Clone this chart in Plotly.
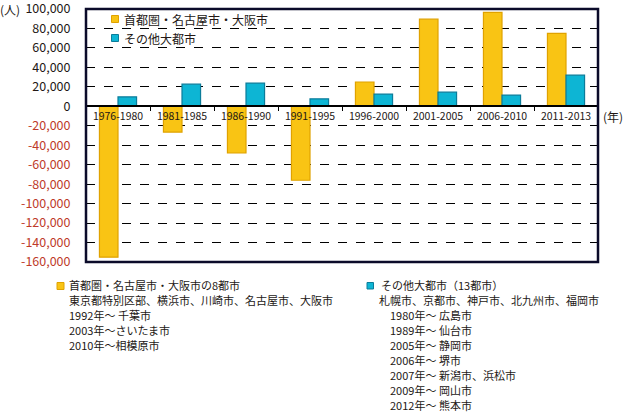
import plotly.graph_objects as go

categories = ["1976-1980", "1981-1985", "1986-1990", "1991-1995",
              "1996-2000", "2001-2005", "2006-2010", "2011-2013"]
metro_values = [-155000, -26500, -48000, -76000, 25000, 89500, 96500, 75000]
other_values = [9700, 22700, 23800, 7700, 12500, 14500, 11500, 32000]
series_names = ["首都圏・名古屋市・大阪市", "その他大都市"]
y_ticks = [100000, 80000, 60000, 40000, 20000, 0, -20000, -40000, -60000,
           -80000, -100000, -120000, -140000, -160000]

left_notes = ["首都圏・名古屋市・大阪市の8都市",
              "東京都特別区部、横浜市、川崎市、名古屋市、大阪市",
              "1992年～ 千葉市",
              "2003年～さいたま市",
              "2010年～相模原市"]
right_notes = ["その他大都市（13都市）",
               "札幌市、京都市、神戸市、北九州市、福岡市",
               "1980年～ 広島市",
               "1989年～ 仙台市",
               "2005年～ 静岡市",
               "2006年～ 堺市",
               "2007年～ 新潟市、浜松市",
               "2009年～ 岡山市",
               "2012年～ 熊本市"]

YELLOW, YELLOW_LINE = "#F9C414", "#E0A200"
BLUE, BLUE_LINE = "#0DB5D4", "#0B7C9A"
TXT = "#231815"
RED = "#BE3B2A"
FONT = "Noto Sans CJK JP"

W, H = 628, 417
L, R, T, B = 86, 30, 9, 155
PW, PH = W - L - R, H - T - B


def px(x):
    return (x - L) / PW


def py(y):
    return (H - B - y) / PH


fig = go.Figure()
fig.add_trace(go.Bar(x=categories, y=metro_values, name=series_names[0],
                     marker=dict(color=YELLOW, line=dict(color=YELLOW_LINE, width=1.2))))
fig.add_trace(go.Bar(x=categories, y=other_values, name=series_names[1],
                     marker=dict(color=BLUE, line=dict(color=BLUE_LINE, width=1.2))))

ticktext = []
for v in y_ticks:
    s = f"{v:,}"
    if v < 0:
        ticktext.append(f'<span style="color:{RED}">{s}</span>')
    else:
        ticktext.append(s)

ymin, ymax = -160000, 100000
eps = 1
zero_pos = (0 - (ymin - eps)) / (ymax - ymin + 2 * eps)

fig.update_layout(
    width=W, height=H,
    margin=dict(l=L, r=R, t=T, b=B, autoexpand=False),
    paper_bgcolor="white", plot_bgcolor="white",
    showlegend=False,
    barmode="group", bargap=0.42, bargroupgap=0.0,
    font=dict(family=FONT, color=TXT),
    xaxis=dict(
        anchor="free", position=zero_pos, automargin=False,
        showline=True, linecolor="#000000", linewidth=1.5,
        ticks="outside", tickson="boundaries", ticklen=4, tickwidth=1.2, tickcolor="#000000",
        tickfont=dict(size=10.5, color=TXT, family=FONT), tickangle=0,
        showgrid=False, zeroline=False,
    ),
    yaxis=dict(
        range=[ymin - eps, ymax + eps], automargin=False,
        tickvals=y_ticks, ticktext=ticktext, ticklabeloverflow="allow",
        tickfont=dict(size=12.5, color=TXT, family=FONT),
        ticks="outside", ticklen=12, tickcolor="rgba(0,0,0,0)",
        showgrid=True, gridcolor="#000000", gridwidth=1, griddash="dash",
        zeroline=True, zerolinecolor="#000000", zerolinewidth=1.5,
        showline=False,
    ),
)

shapes = [dict(type="rect", xref="paper", yref="paper", x0=0, x1=1, y0=0, y1=1,
               line=dict(color="#0B0B2A", width=2.5), fillcolor="rgba(0,0,0,0)", layer="above")]
annotations = []


def square(x0, y0, size, fill, line):
    shapes.append(dict(type="rect", xref="paper", yref="paper",
                       x0=px(x0), x1=px(x0 + size), y0=py(y0 + size), y1=py(y0),
                       fillcolor=fill, line=dict(color=line, width=1), layer="above"))


def text(x, y, s, size, anchor="left", color=TXT):
    annotations.append(dict(xref="paper", yref="paper", x=px(x), y=py(y), text=s,
                            showarrow=False, xanchor=anchor, yanchor="middle",
                            font=dict(size=size, color=color, family=FONT)))


# in-plot legend
square(111.5, 15.5, 7, YELLOW, YELLOW_LINE)
text(122, 19, series_names[0], 12)
square(111.5, 34.5, 7, BLUE, BLUE_LINE)
text(122, 38, series_names[1], 12)

# unit labels
text(-2, 9, "(人)", 12)
text(601, 116, "(年)", 12)

# notes
square(57, 282.5, 7, YELLOW, YELLOW_LINE)
text(67, 285, left_notes[0], 11)
for i, s in enumerate(left_notes[1:], start=1):
    text(67, 285 + 15 * i, s, 11)

square(367, 282.5, 6.5, BLUE, BLUE_LINE)
text(379, 285, right_notes[0], 11)
text(377, 300, right_notes[1], 11)
for i, s in enumerate(right_notes[2:], start=2):
    text(388, 285 + 15 * i, s, 11)

fig.update_layout(shapes=shapes, annotations=annotations)
fig.write_html("out.html", config={"displayModeBar": False},
               post_script="document.body.style.margin='0';document.body.style.overflow='hidden';")
